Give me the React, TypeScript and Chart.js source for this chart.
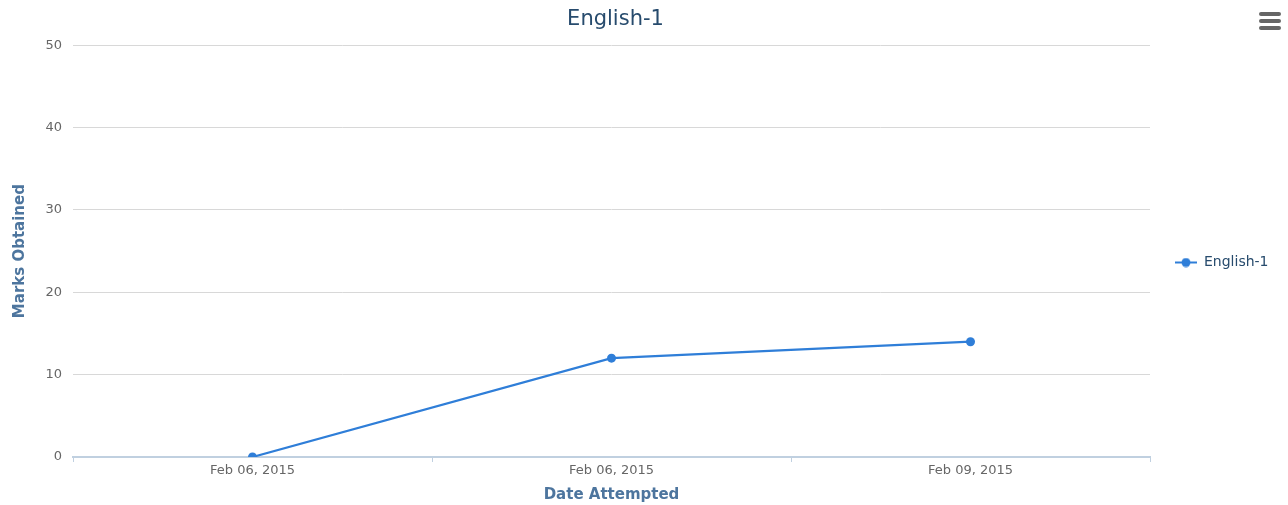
import React, { useEffect, useRef } from "react";
import { Chart, registerables } from "chart.js";

Chart.register(...registerables);

const chartTitle = "English-1";
const categories = ["Feb 06, 2015", "Feb 06, 2015", "Feb 09, 2015"];
const seriesName = "English-1";
const seriesValues = [0, 12, 14];
const yTicks = { min: 0, max: 50, step: 10 };
const xAxisTitle = "Date Attempted";
const yAxisTitle = "Marks Obtained";

const LINE = "#2f7ed8";
const FONT = "'DejaVu Sans', sans-serif";

function makeLegendMarker(): HTMLCanvasElement {
  const c = document.createElement("canvas");
  c.width = 22;
  c.height = 10;
  const ctx = c.getContext("2d")!;
  ctx.strokeStyle = LINE;
  ctx.lineWidth = 2;
  ctx.beginPath();
  ctx.moveTo(0, 5);
  ctx.lineTo(22, 5);
  ctx.stroke();
  ctx.fillStyle = LINE;
  ctx.beginPath();
  ctx.arc(11, 5, 4.5, 0, Math.PI * 2);
  ctx.fill();
  return c;
}

export default function App() {
  const ref = useRef<HTMLCanvasElement>(null);
  useEffect(() => {
    document.body.style.margin = "0";
    const marker = makeLegendMarker();
    const legendPlacePlugin = {
      id: "legendPlace",
      afterInit(chart: any) {
        const lg = chart.legend;
        if (!lg) return;
        const orig = lg.fit;
        lg.fit = function () {
          orig.call(this);
          this.width = 138;
        };
      },
      afterLayout(chart: any) {
        const lg = chart.legend;
        if (lg) {
          lg.left += 15;
          lg.right += 15;
          lg.top += 10;
          lg.bottom += 10;
        }
        const tt = chart.titleBlock;
        if (tt) {
          tt.left += 4;
          tt.right += 4;
        }
      },
    };
    const chart = new Chart(ref.current!, {
      type: "line",
      data: {
        labels: categories,
        datasets: [
          {
            label: seriesName,
            data: seriesValues,
            borderColor: LINE,
            backgroundColor: LINE,
            borderWidth: 2.2,
            pointRadius: 4.5,
            pointHoverRadius: 5,
            pointBackgroundColor: LINE,
            pointBorderWidth: 0,
            tension: 0,
            pointStyle: "circle",
          },
        ],
      },
      options: {
        responsive: false,
        animation: false,
        layout: { padding: { left: 0, right: 0, top: 0, bottom: 0 } },
        plugins: {
          title: {
            display: true,
            fullSize: false,
            text: chartTitle,
            color: "#274b6d",
            font: { family: FONT, size: 21, weight: "normal" },
            padding: { top: 7, bottom: 13 },
          },
          legend: {
            position: "right",
            align: "center",
            labels: {
              usePointStyle: true,
              pointStyleWidth: 22,
              generateLabels: () => [
                {
                  text: seriesName,
                  fillStyle: LINE,
                  strokeStyle: LINE,
                  pointStyle: marker,
                  datasetIndex: 0,
                  hidden: false,
                  fontColor: "#274b6d",
                },
              ],
              color: "#274b6d",
              font: { family: FONT, size: 14 },
              padding: 10,
            },
          },
          tooltip: { enabled: false },
        },
        scales: {
          x: {
            type: "category",
            offset: true,
            afterFit: (s: any) => {
              s.height = 48;
            },
            grid: {
              offset: true,
              drawOnChartArea: false,
              drawTicks: true,
              tickLength: 5,
              color: "#c0d0e0",
            },
            border: { display: true, color: "#c0d0e0", width: 2 },
            ticks: {
              color: "#666666",
              font: { family: FONT, size: 13 },
              padding: 1,
              maxRotation: 0,
            },
            title: {
              display: true,
              text: xAxisTitle,
              color: "#4d759e",
              font: { family: FONT, size: 15, weight: "bold" },
              padding: { top: 0, bottom: 1 },
            },
          },
          y: {
            min: yTicks.min,
            max: yTicks.max,
            afterFit: (s: any) => {
              s.width = 73;
            },
            grid: { color: "#d8d8d8", drawTicks: false, lineWidth: 1 },
            border: { display: false },
            ticks: {
              stepSize: yTicks.step,
              color: "#666666",
              font: { family: FONT, size: 13 },
              padding: 11,
            },
            title: {
              display: true,
              text: yAxisTitle,
              color: "#4d759e",
              font: { family: FONT, size: 15, weight: "bold" },
              padding: { top: 11, bottom: 0 },
            },
          },
        },
      },
      plugins: [legendPlacePlugin],
    });
    return () => chart.destroy();
  }, []);
  const bar = (top: number) => (
    <div
      style={{
        position: "absolute",
        left: 1259,
        top,
        width: 22,
        height: 4,
        borderRadius: 2,
        background: "#666",
      }}
    />
  );
  return (
    <div style={{ position: "relative", width: 1288, height: 505 }}>
      <canvas ref={ref} width={1288} height={505} />
      {bar(12)}
      {bar(19)}
      {bar(26)}
    </div>
  );
}
